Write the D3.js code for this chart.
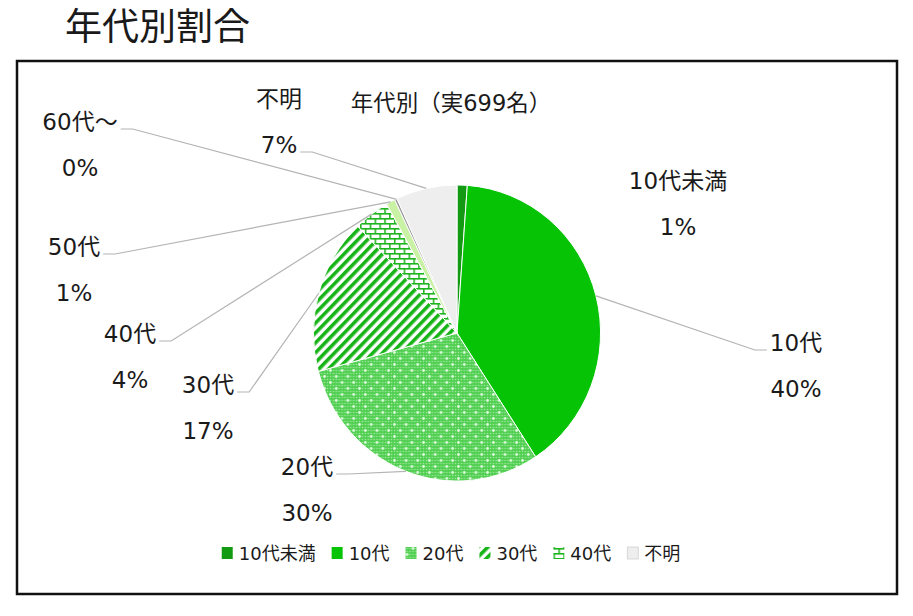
<!DOCTYPE html>
<html>
<head>
<meta charset="utf-8">
<script src="https://cdn.jsdelivr.net/npm/d3@7"></script>
<style>
  body { margin: 0; background: #fff; }
  text { font-family: "DejaVu Sans", "Noto Sans CJK JP", sans-serif; fill: #1a1a1a; }
</style>
</head>
<body>
<div id="chart"></div>
<script>
// data (実699名)
var ages = ["10代未満", "10代", "20代", "30代", "40代", "50代", "60代～", "不明"];
var counts = [8, 277, 210, 119, 28, 7, 2, 48];
var legendAges = ["10代未満", "10代", "20代", "30代", "40代", "不明"];
var pageTitle = "年代別割合";
var chartTitle = "年代別（実699名）";

// label placement (name line centre), side of the leader, which line the leader hooks to
var labelPos = [
  {x: 678, y: 181, side: "none", line: 0},
  {x: 796, y: 343, side: "r", line: 0},
  {x: 307, y: 467, side: "l", line: 0},
  {x: 208, y: 385, side: "l", line: 0},
  {x: 130, y: 334, side: "l", line: 0},
  {x: 74,  y: 247, side: "l", line: 0},
  {x: 80,  y: 122, side: "l", line: 0},
  {x: 279, y: 99,  side: "l", line: 1}
];

var fills = ["#139a13", "#06c306", "url(#dots)", "url(#stripes)", "url(#bricks)", "#c9f2a4", "#9a9a9a", "#eeeeee"];

var W = 913, H = 616;
var cx = 457, cy = 333, R = 148, sx = 0.97;

var svg = d3.select("#chart").append("svg")
  .attr("width", W)
  .attr("height", H);

// patterns
var defs = svg.append("defs");

var dots = defs.append("pattern")
  .attr("id", "dots")
  .attr("patternUnits", "userSpaceOnUse")
  .attr("width", 12).attr("height", 12);
dots.append("rect").attr("width", 12).attr("height", 12).attr("fill", "#52cf52");
for (var i = 0; i < 4; i++) {
  for (var j = 0; j < 4; j++) {
    dots.append("circle")
      .attr("cx", i * 3 + 1.5).attr("cy", j * 3 + 1.5)
      .attr("r", 0.8).attr("fill", "#9ae89a");
  }
}
dots.append("circle").attr("cx", 1.5).attr("cy", 1.5).attr("r", 1.4).attr("fill", "#e0fae0");
dots.append("circle").attr("cx", 7.5).attr("cy", 7.5).attr("r", 1.4).attr("fill", "#e0fae0");

var stripes = defs.append("pattern")
  .attr("id", "stripes")
  .attr("patternUnits", "userSpaceOnUse")
  .attr("width", 7).attr("height", 7)
  .attr("patternTransform", "rotate(45)");
stripes.append("rect").attr("width", 7).attr("height", 7).attr("fill", "#ffffff");
stripes.append("rect").attr("width", 3.6).attr("height", 7).attr("fill", "#17b417");

var bricks = defs.append("pattern")
  .attr("id", "bricks")
  .attr("patternUnits", "userSpaceOnUse")
  .attr("width", 10).attr("height", 10);
bricks.append("rect").attr("width", 10).attr("height", 10).attr("fill", "#ffffff");
bricks.append("rect").attr("x", 0).attr("y", 0).attr("width", 10).attr("height", 1.6).attr("fill", "#1db41d");
bricks.append("rect").attr("x", 0).attr("y", 5).attr("width", 10).attr("height", 1.6).attr("fill", "#1db41d");
bricks.append("rect").attr("x", 0).attr("y", 0).attr("width", 1.6).attr("height", 5).attr("fill", "#1db41d");
bricks.append("rect").attr("x", 5).attr("y", 5).attr("width", 1.6).attr("height", 5).attr("fill", "#1db41d");

// page title + frame
svg.append("text")
  .attr("x", 65).attr("y", 40)
  .style("font-size", "37px")
  .text(pageTitle);

svg.append("rect")
  .attr("x", 17).attr("y", 61)
  .attr("width", 880).attr("height", 533)
  .attr("fill", "none")
  .attr("stroke", "#111")
  .attr("stroke-width", 2.5);

svg.append("text")
  .attr("x", 451).attr("y", 111)
  .attr("text-anchor", "middle")
  .style("font-size", "22.5px")
  .text(chartTitle);

// pie
var total = d3.sum(counts);
var data = ages.map(function(a, i) { return {age: a, n: counts[i], i: i}; });

var pie = d3.pie()
  .sort(null)
  .value(function(d) { return d.n; });
var arcs = pie(data);

var arc = d3.arc().innerRadius(0).outerRadius(R);
var edge = d3.arc().innerRadius(R).outerRadius(R);

var g = svg.append("g")
  .attr("transform", "translate(" + cx + "," + cy + ") scale(" + sx + ",1)");

g.selectAll("path.slice")
  .data(arcs)
  .enter().append("path")
    .attr("class", "slice")
    .attr("d", arc)
    .attr("fill", function(d) { return fills[d.data.i]; })
    .attr("stroke", "#ffffff")
    .attr("stroke-width", 1);

// labels + leader lines
var lbl = svg.append("g");
arcs.forEach(function(d) {
  var p = labelPos[d.data.i];
  var pct = Math.round(d.data.n / total * 100) + "%";
  var t1 = lbl.append("text")
    .attr("x", p.x).attr("y", p.y + 8)
    .attr("text-anchor", "middle")
    .style("font-size", "23px")
    .text(d.data.age);
  var t2 = lbl.append("text")
    .attr("x", p.x).attr("y", p.y + 54)
    .attr("text-anchor", "middle")
    .style("font-size", "23px")
    .text(pct);
  if (p.side == "none") return;

  var bb = (p.line == 0 ? t1 : t2).node().getBBox();
  var ly = (p.line == 0 ? p.y : p.y + 46) + 7;
  var x0, x1;
  if (p.side == "l") { x0 = bb.x + bb.width + 3; x1 = x0 + 12; }
  else { x0 = bb.x - 3; x1 = x0 - 12; }
  var e = edge.centroid(d);
  lbl.append("path")
    .attr("d", d3.line()([[x0, ly], [x1, ly], [cx + e[0] * sx, cy + e[1]]]))
    .attr("fill", "none")
    .attr("stroke", "#b4b4b4")
    .attr("stroke-width", 1.2);
});

// legend
var leg = svg.append("g").attr("transform", "translate(0,553)");
var lx = 0;
legendAges.forEach(function(a) {
  var i = ages.indexOf(a);
  var item = leg.append("g").attr("transform", "translate(" + lx + ",0)");
  item.append("rect")
    .attr("x", 0).attr("y", -6)
    .attr("width", 11).attr("height", 12)
    .attr("fill", fills[i])
    .attr("stroke", i == 7 ? "#d0d0d0" : "none")
    .attr("stroke-width", 0.8);
  var t = item.append("text")
    .attr("x", 17).attr("y", 7)
    .style("font-size", "18px")
    .text(a);
  lx += 17 + t.node().getComputedTextLength() + 16;
});
var legW = lx - 16;
leg.attr("transform", "translate(" + (451 - legW / 2) + ",553)");
</script>
</body>
</html>
